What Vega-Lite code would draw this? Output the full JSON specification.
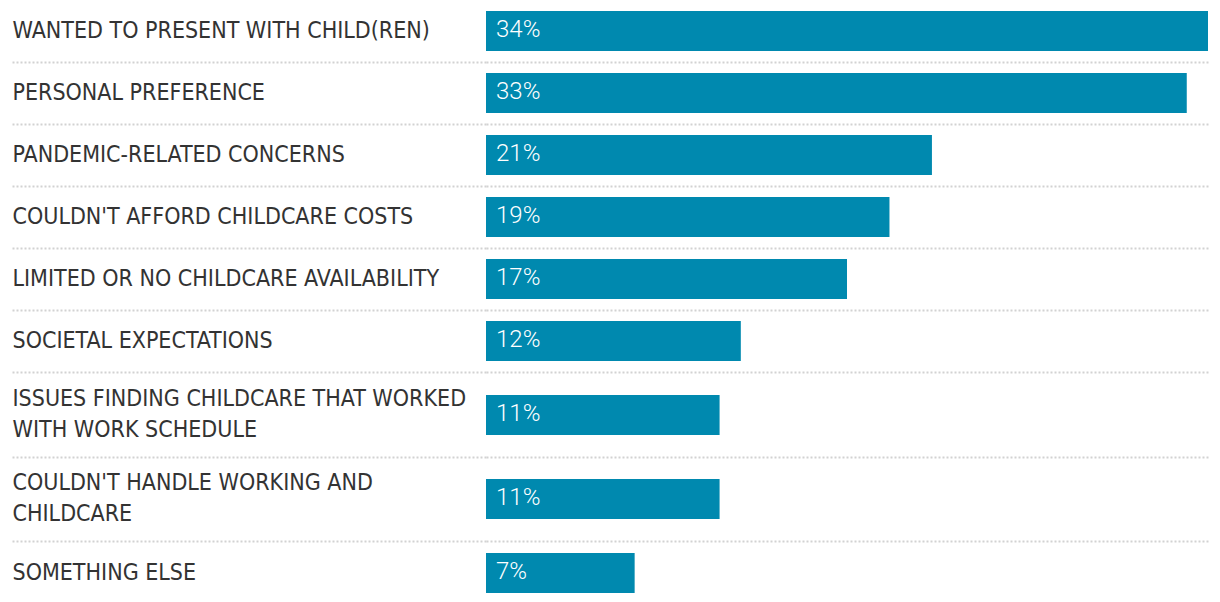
{
  "$schema": "https://vega.github.io/schema/vega-lite/v6.json",
  "padding": {"left": 11, "right": 11, "top": 0, "bottom": 0},
  "spacing": 0,
  "background": "white",
  "config": {
    "view": {"stroke": null},
    "concat": {"spacing": 0},
    "axisY": {
      "title": null,
      "domain": false,
      "ticks": true,
      "tickSize": 474,
      "tickColor": "#d2d2d2",
      "tickDash": [2, 2],
      "tickWidth": 2,
      "grid": true,
      "gridColor": "#d2d2d2",
      "gridDash": [2, 2],
      "gridWidth": 2,
      "bandPosition": 1,
      "labelAlign": "left",
      "labelBaseline": "middle",
      "labelPadding": 0,
      "labelFont": "DejaVu Sans Condensed, sans-serif",
      "labelFontSize": 23,
      "labelColor": "#333333",
      "labelLimit": 600,
      "labelLineHeight": 31,
      "labelExpr": "split(datum.label, '|')"
    }
  },
  "data": {
    "values": [
      {"reason": "WANTED TO PRESENT WITH CHILD(REN)", "pct": 0.34},
      {"reason": "PERSONAL PREFERENCE", "pct": 0.33},
      {"reason": "PANDEMIC-RELATED CONCERNS", "pct": 0.21},
      {"reason": "COULDN'T AFFORD CHILDCARE COSTS", "pct": 0.19},
      {"reason": "LIMITED OR NO CHILDCARE AVAILABILITY", "pct": 0.17},
      {"reason": "SOCIETAL EXPECTATIONS", "pct": 0.12},
      {"reason": "ISSUES FINDING CHILDCARE THAT WORKED|WITH WORK SCHEDULE", "pct": 0.11},
      {"reason": "COULDN'T HANDLE WORKING AND|CHILDCARE", "pct": 0.11},
      {"reason": "SOMETHING ELSE", "pct": 0.07}
    ]
  },
  "resolve": {"scale": {"y": "independent"}},
  "vconcat": [
    {
      "width": 722,
      "height": 372,
      "transform": [{"filter": {"field": "reason", "oneOf": ["WANTED TO PRESENT WITH CHILD(REN)", "PERSONAL PREFERENCE", "PANDEMIC-RELATED CONCERNS", "COULDN'T AFFORD CHILDCARE COSTS", "LIMITED OR NO CHILDCARE AVAILABILITY", "SOCIETAL EXPECTATIONS"]}}],
      "encoding": {
        "y": {"field": "reason", "type": "nominal", "sort": null, "scale": {"paddingInner": 0, "paddingOuter": 0}}
      },
      "layer": [
        {
          "mark": {"type": "bar", "height": 40, "color": "#0089af"},
          "encoding": {"x": {"field": "pct", "type": "quantitative", "scale": {"domain": [0, 0.34], "nice": false}, "axis": null}}
        },
        {
          "mark": {"type": "text", "align": "left", "baseline": "middle", "dx": 10, "dy": -1, "color": "white", "font": "Roboto", "fontWeight": 300, "fontSize": 24},
          "encoding": {
            "x": {"datum": 0, "type": "quantitative"},
            "text": {"field": "pct", "type": "quantitative", "format": ".0%"}
          }
        }
      ]
    },
    {
      "width": 722,
      "height": 168,
      "transform": [{"filter": {"field": "reason", "oneOf": ["ISSUES FINDING CHILDCARE THAT WORKED|WITH WORK SCHEDULE", "COULDN'T HANDLE WORKING AND|CHILDCARE"]}}],
      "encoding": {
        "y": {"field": "reason", "type": "nominal", "sort": null, "scale": {"paddingInner": 0, "paddingOuter": 0}, "axis": {"labelOffset": -16}}
      },
      "layer": [
        {
          "mark": {"type": "bar", "height": 40, "color": "#0089af"},
          "encoding": {"x": {"field": "pct", "type": "quantitative", "scale": {"domain": [0, 0.34], "nice": false}, "axis": null}}
        },
        {
          "mark": {"type": "text", "align": "left", "baseline": "middle", "dx": 10, "dy": -1, "color": "white", "font": "Roboto", "fontWeight": 300, "fontSize": 24},
          "encoding": {
            "x": {"datum": 0, "type": "quantitative"},
            "text": {"field": "pct", "type": "quantitative", "format": ".0%"}
          }
        }
      ]
    },
    {
      "width": 722,
      "height": 62,
      "transform": [{"filter": {"field": "reason", "oneOf": ["SOMETHING ELSE"]}}],
      "encoding": {
        "y": {"field": "reason", "type": "nominal", "sort": null, "scale": {"paddingInner": 0, "paddingOuter": 0}, "axis": {"grid": false, "tickOpacity": 0}}
      },
      "layer": [
        {
          "mark": {"type": "bar", "height": 40, "color": "#0089af"},
          "encoding": {"x": {"field": "pct", "type": "quantitative", "scale": {"domain": [0, 0.34], "nice": false}, "axis": null}}
        },
        {
          "mark": {"type": "text", "align": "left", "baseline": "middle", "dx": 10, "dy": -1, "color": "white", "font": "Roboto", "fontWeight": 300, "fontSize": 24},
          "encoding": {
            "x": {"datum": 0, "type": "quantitative"},
            "text": {"field": "pct", "type": "quantitative", "format": ".0%"}
          }
        }
      ]
    }
  ]
}
